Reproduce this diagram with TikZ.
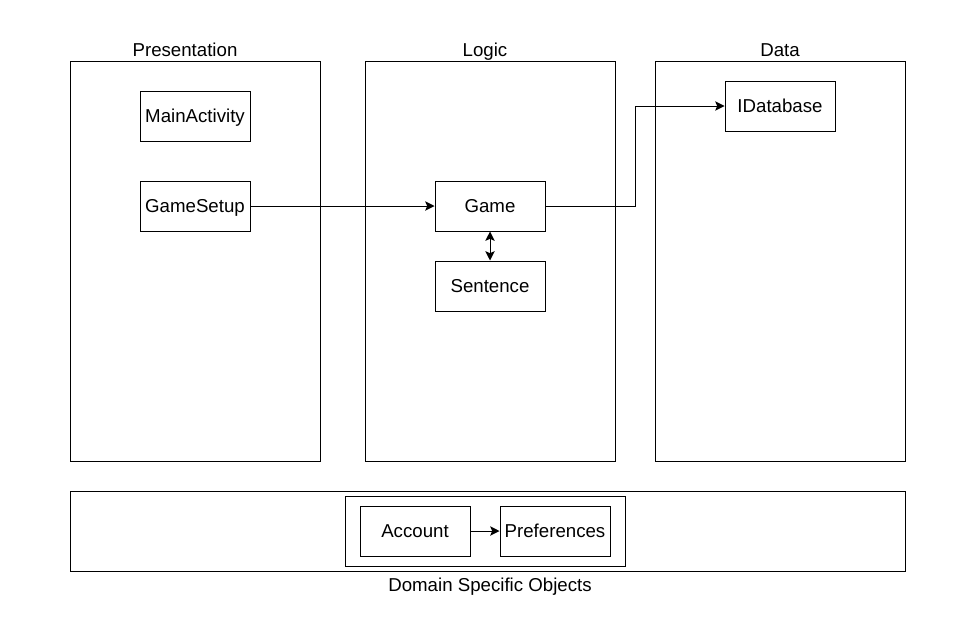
\documentclass[tikz,border=0pt]{standalone}
\usepackage{fontspec}
\setmainfont{Liberation Sans}
\usetikzlibrary{positioning,arrows.meta}

\tikzstyle{layer} = [draw, rectangle, line width=0.75pt, minimum width=187.5pt, minimum height=300pt]
\tikzstyle{block} = [draw, rectangle, line width=0.75pt, minimum width=82.5pt, minimum height=37.5pt, text height=10pt, text depth=0pt]
\tikzstyle{title} = [rectangle, inner sep=0pt, anchor=base]
\tikzstyle{conn} = [line width=0.75pt, -{Stealth[length=7pt,width=7pt,inset=1.5pt]}]

\begin{document}
\begin{tikzpicture}[x=0.75pt,y=-0.75pt,font=\fontsize{14}{17}\selectfont]
  \useasboundingbox (0,0) rectangle (969,632);

  % layers
  \node [layer] (pres) at (195,261.5) {};
  \node [layer] (logic) at (490,261.5) {};
  \node [layer] (data) at (780,261.5) {};
  \node [title] (pres_t) at (185,56) {Presentation};
  \node [title] (logic_t) at (485,56) {Logic};
  \node [title] (data_t) at (780,56) {Data};

  % domain objects
  \node [draw, rectangle, line width=0.75pt, minimum width=626.25pt, minimum height=60pt] (dom) at (487.5,531) {};
  \node [draw, rectangle, line width=0.75pt, minimum width=210pt, minimum height=52.5pt] (dom_in) at (485,531) {};
  \node [title] (dom_t) at (490,591) {Domain Specific Objects};

  \node [block] (main) at (195,116) {MainActivity};
  \node [block] (setup) at (195,206) {GameSetup};
  \node [block] (game) at (490,206) {Game};
  \node [block] (sent) at (490,286) {Sentence};
  \node [block] (idb) at (780,106) {IDatabase};
  \node [block] (acc) at (415,531) {Account};
  \node [block] (prefs) at (555,531) {Preferences};

  \coordinate (game_r) at (635,206);

  \draw [conn] (setup) -- (game);
  \draw [conn] (game) -- (game_r) |- (idb);
  \draw [conn, {Stealth[length=7pt,width=7pt,inset=1.5pt]}-{Stealth[length=7pt,width=7pt,inset=1.5pt]}] (game) -- (sent);
  \draw [conn] (acc) -- (prefs);
\end{tikzpicture}
\end{document}
